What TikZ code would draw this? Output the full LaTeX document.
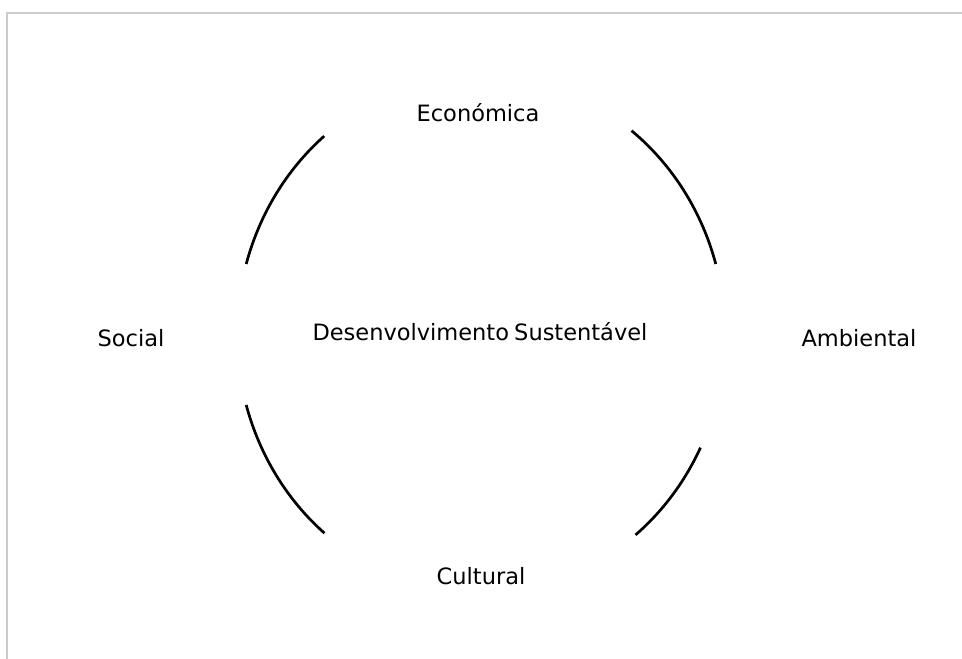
\documentclass[tikz,border=0pt]{standalone}
\usepackage{fontspec}
\setmainfont{DejaVu Sans}
\definecolor{framegray}{HTML}{CCCCCC}
\begin{document}
\begin{tikzpicture}[x=1pt,y=-1pt,
  lbl/.style={anchor=base,inner sep=0pt,font=\fontsize{22.5}{27}\selectfont,text=black},
  arcline/.style={line width=2.7pt,black},
  frameline/.style={line width=1.7pt,framegray}]
\useasboundingbox[fill=white] (0,0) rectangle (962,659);
% frame
\coordinate (ftl) at (6.8,12.8);
\coordinate (ftr) at (962,12.8);
\coordinate (fbl) at (6.8,659);
\draw[frameline] (ftr) -- (ftl) -- (fbl);
% centre of the ring
\coordinate (c) at (481,334.5);
% arcs
\draw[arcline] ([shift={(-164.2:244 and 259)}]c) arc[start angle=-164.2,end angle=-130.0,x radius=244,y radius=259];
\draw[arcline] ([shift={(-51.9:244 and 259)}]c) arc[start angle=-51.9,end angle=-15.8,x radius=244,y radius=259];
\draw[arcline] ([shift={(164.2:244 and 259)}]c) arc[start angle=164.2,end angle=129.9,x radius=244,y radius=259];
\draw[arcline] ([shift={(25.9:244 and 259)}]c) arc[start angle=25.9,end angle=50.7,x radius=244,y radius=259];
% labels
\node[lbl] (eco) at (478,121) {Económica};
\node[lbl] (ds) at (480,340) {Desenvolvimento\hspace{-2pt} Sustentável};
\node[lbl] (soc) at (131,346) {Social};
\node[lbl] (amb) at (859,346) {Ambiental};
\node[lbl] (cul) at (481,584) {Cultural};
\end{tikzpicture}
\end{document}
